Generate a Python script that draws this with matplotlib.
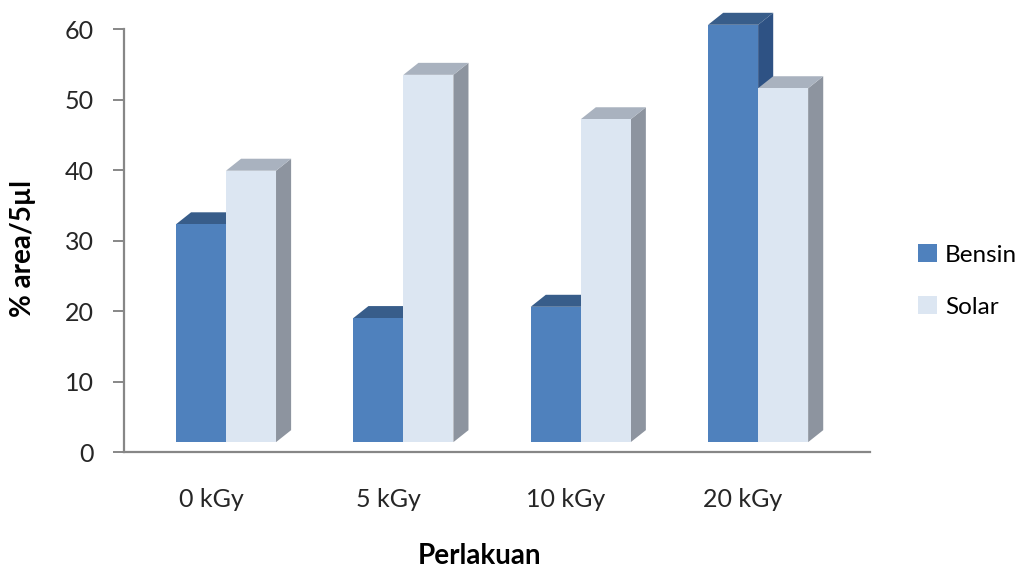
import matplotlib.pyplot as plt
from matplotlib.patches import Polygon

# Treatment doses and measured % area per 5 ul
categories = ['0 kGy', '5 kGy', '10 kGy', '20 kGy']
bensin = [32.3, 19.0, 20.6, 60.6]
solar = [39.9, 53.5, 47.2, 51.6]

plt.rcParams['font.family'] = ['Lato', 'DejaVu Sans']

fig = plt.figure(figsize=(10.25, 5.71), dpi=100)
ax = fig.add_axes([0.121, 0.2084, 0.728, 0.7408])

bar_w = 0.282   # width of one column face
dx, dy = 0.085, 1.7   # depth offset of the 3D box
base = 1.4      # columns stand on the perspective floor, slightly above 0

colors = {
    'Bensin': ('#4f81bd', '#385d8a', '#2e5284'),
    'Solar': ('#dce6f2', '#a9b2bf', '#8d949f'),
}


def column(x0, top, face, top_c, side_c):
    x1 = x0 + bar_w
    side = [(x1, base), (x1 + dx, base + dy), (x1 + dx, top + dy), (x1, top)]
    lid = [(x0, top), (x0 + dx, top + dy), (x1 + dx, top + dy), (x1, top)]
    front = [(x0, base), (x1, base), (x1, top), (x0, top)]
    for pts, c, z in [(side, side_c, 2), (lid, top_c, 2), (front, face, 3)]:
        ax.add_patch(Polygon(pts, closed=True, facecolor=c, edgecolor='none',
                             zorder=z, clip_on=False))


for i in range(len(categories)):
    column(i - bar_w, bensin[i], *colors['Bensin'])
    column(i, solar[i], *colors['Solar'])

ax.set_xlim(-0.575, 3.632)
ax.set_ylim(0, 60)
ax.set_yticks(range(0, 61, 10))
ax.set_xticks([i - 0.085 for i in range(len(categories))])
ax.set_xticklabels(categories)

for s in ['top', 'right']:
    ax.spines[s].set_visible(False)
for s in ['left', 'bottom']:
    ax.spines[s].set_color('#878787')
    ax.spines[s].set_linewidth(1.6)
ax.tick_params(axis='y', length=8, width=1.4, color='#878787', labelsize=18, pad=14, labelcolor='#262626')
ax.tick_params(axis='x', length=0, labelsize=18, pad=26, labelcolor='#262626')

ax.set_ylabel('% area/5µl', fontsize=20, fontweight='bold')
ax.yaxis.set_label_coords(-0.118, 0.482)
ax.set_xlabel('Perlakuan', fontsize=20, fontweight='bold')
ax.xaxis.set_label_coords(0.476, -0.215)

handles = [plt.Rectangle((0, 0), 1, 1, facecolor=colors[k][0]) for k in ['Bensin', 'Solar']]
fig.legend(handles, ['Bensin', 'Solar'], loc='center left', bbox_to_anchor=(0.896, 0.508),
           frameon=False, fontsize=17.5, handlelength=0.75, handleheight=0.75, borderpad=0,
           borderaxespad=0, labelspacing=1.25, handletextpad=0.35)

fig.savefig('out.png', dpi=100)
